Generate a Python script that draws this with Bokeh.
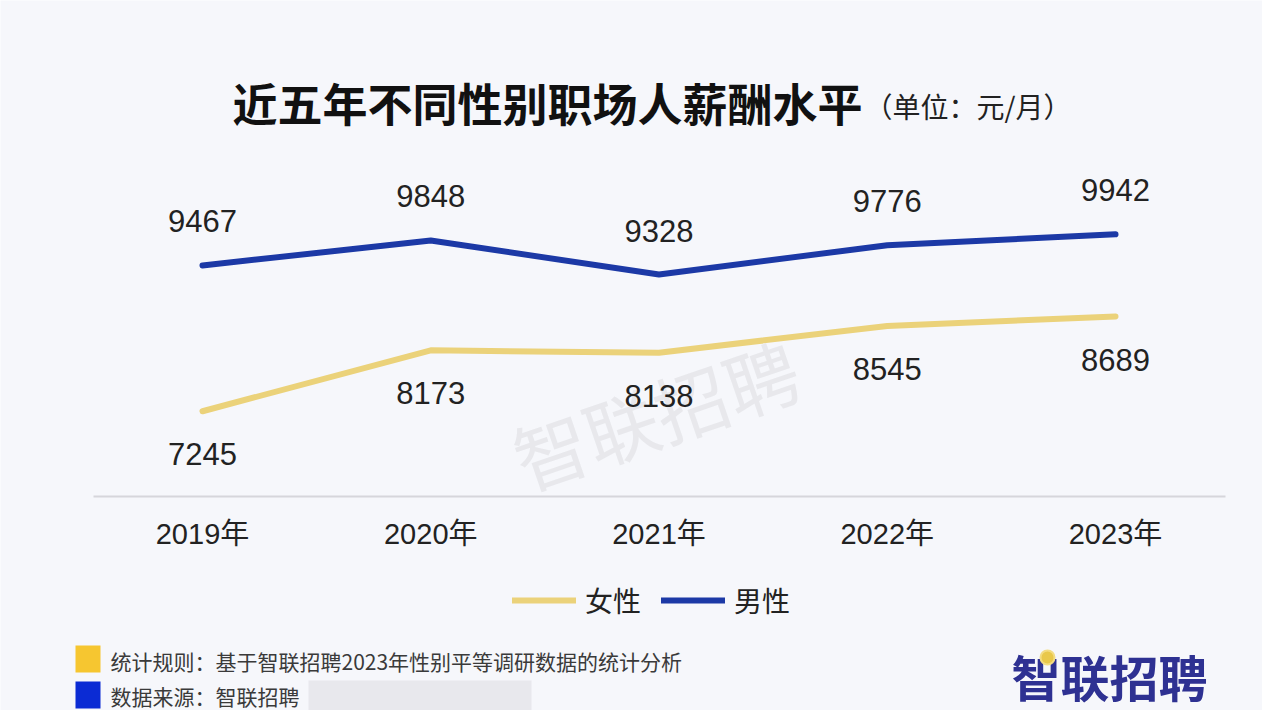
from bokeh.plotting import figure
from bokeh.models import Range1d, Legend, LegendItem
from bokeh.core.properties import value
from bokeh.embed import file_html
from bokeh.resources import INLINE

# ---- data ----
years = ["2019年", "2020年", "2021年", "2022年", "2023年"]
female = [7245, 8173, 8138, 8545, 8689]
male = [9467, 9848, 9328, 9776, 9942]
series_names = ["女性", "男性"]
title_text = "近五年不同性别职场人薪酬水平"
unit_text = "（单位：元/月）"
note1 = "统计规则：基于智联招聘2023年性别平等调研数据的统计分析"
note2 = "数据来源：智联招聘"
logo_text = "智联招聘"

# ---- layout helpers (pixel -> data) ----
W, H = 1262, 710
X0, DX = 202.0, 228.25      # pixel of first category, pixels per category
Y0, K = 886.0, 0.0656       # pixel of value 0, pixels per unit


def px_x(px):
    return (px - X0) / DX


def px_y(py):
    return (Y0 - py) / K


BG = "#f6f7fb"
BLUE = "#1c39a6"
YELLOW = "#ebd27a"
CJK = "Noto Sans CJK SC"
NUM = "Liberation Sans, Noto Sans CJK SC"

p = figure(width=W, height=H, output_backend="svg", toolbar_location=None,
           x_range=Range1d(px_x(0), px_x(W)), y_range=Range1d(px_y(H), px_y(0)),
           x_axis_type=None, y_axis_type=None, min_border=0)
p.grid.visible = False
p.outline_line_color = None
p.background_fill_color = BG
p.border_fill_color = BG

xs = list(range(len(years)))

# watermark
p.text(x=[px_x(655)], y=[px_y(412)], text=[logo_text], angle=0.33,
       text_font=value(CJK), text_font_size="74px", text_color="#d9d9de",
       text_alpha=0.5, text_align="center", text_baseline="middle")

# baseline (x axis line)
p.segment(x0=[px_x(93)], x1=[px_x(1225)], y0=[px_y(496)], y1=[px_y(496)],
          line_color="#d6d6db", line_width=2)

# category labels
p.text(x=xs, y=[px_y(533)] * len(xs), text=years, text_font=value(NUM),
       text_font_size="29px", text_color="#222222", text_align="center",
       text_baseline="middle")

# lines
rf = p.line(xs, female, line_color=YELLOW, line_width=6, line_cap="round", line_join="round")
rm = p.line(xs, male, line_color=BLUE, line_width=6, line_cap="round", line_join="round")

# data labels
p.text(x=xs, y=male, text=[str(v) for v in male], y_offset=-44,
       text_font=value(NUM), text_font_size="31px", text_color="#222222",
       text_align="center", text_baseline="middle")
p.text(x=xs, y=female, text=[str(v) for v in female], y_offset=43,
       text_font=value(NUM), text_font_size="31px", text_color="#222222",
       text_align="center", text_baseline="middle")

# title
p.text(x=[px_x(232)], y=[px_y(102)], text=[title_text], text_font=value(CJK),
       text_font_style="bold", text_font_size="45px", text_color="#111111",
       text_align="left", text_baseline="middle")
p.text(x=[px_x(864)], y=[px_y(105)], text=[unit_text], text_font=value(CJK),
       text_font_size="28px", text_color="#222222",
       text_align="left", text_baseline="middle")

# legend
legend = Legend(items=[LegendItem(label=series_names[0], renderers=[rf]),
                       LegendItem(label=series_names[1], renderers=[rm])],
                orientation="horizontal", location=(512, 90),
                glyph_width=64, glyph_height=30, label_standoff=9, spacing=20,
                padding=0, margin=0, border_line_alpha=0, background_fill_alpha=0,
                label_text_font=CJK, label_text_font_size="28px",
                label_text_color="#222222")
p.add_layout(legend)

# footer notes
p.quad(left=[px_x(75)], right=[px_x(100)], top=[px_y(645)], bottom=[px_y(672)],
       fill_color="#f6c630", line_color=None)
p.quad(left=[px_x(75)], right=[px_x(100)], top=[px_y(681)], bottom=[px_y(708)],
       fill_color="#0b2bd4", line_color=None)
p.text(x=[px_x(110)], y=[px_y(660)], text=[note1], text_font=value(CJK),
       text_font_size="21px", text_color="#3a3a3a", text_align="left",
       text_baseline="middle")
p.text(x=[px_x(110)], y=[px_y(695)], text=[note2], text_font=value(CJK),
       text_font_size="21px", text_color="#3a3a3a", text_align="left",
       text_baseline="middle")
# redaction blob
p.quad(left=[px_x(308)], right=[px_x(531)], top=[px_y(680)], bottom=[px_y(712)],
       fill_color="#e5e5ea", fill_alpha=0.85, line_color=None)

# logo
p.text(x=[px_x(1011)], y=[px_y(675)], text=[logo_text], text_font=value(CJK),
       text_font_style="bold", text_font_size="49px", text_color="#2e3192",
       text_align="left", text_baseline="middle")
p.scatter(x=[px_x(1047)], y=[px_y(657)], size=14, marker="circle",
          fill_color="#e9c84a", line_color="#f3dc82", line_width=2)

open("out.html", "w").write(file_html(p, INLINE))
